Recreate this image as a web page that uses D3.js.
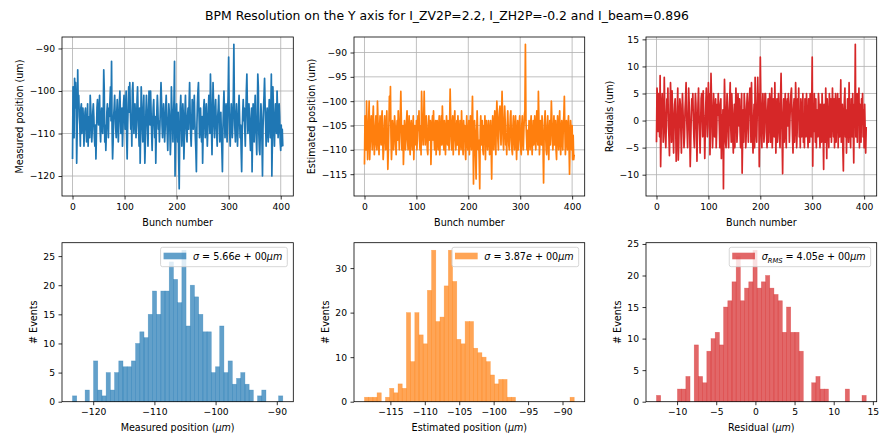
<!DOCTYPE html>
<html><head><meta charset="utf-8">
<script src="https://cdn.jsdelivr.net/npm/d3@7"></script>
<style>body{margin:0;background:#fff}svg{display:block}text{font-family:"DejaVu Sans",sans-serif}</style>
</head><body><svg id="c" width="879" height="433"></svg>
<script>
// ---------- data ----------
const chartTitle = "BPM Resolution on the Y axis for I_ZV2P=2.2, I_ZH2P=-0.2 and I_beam=0.896";
const bunchTicks = [0, 100, 200, 300, 400];
const measuredTicks = [-120, -110, -100, -90];
const estimatedTicks = [-115, -110, -105, -100, -95, -90];
const residualTicks = [-10, -5, 0, 5, 10, 15];
const countTicksA = [0, 5, 10, 15, 20, 25];
const countTicksB = [0, 10, 20, 30];
const countTicksC = [0, 5, 10, 15, 20, 25];

const measured = [
-116,-99,-100,-111,-97,-104,-98,-102,-117,-109,-95,-104,-101,-106,-108,-113,-104,-103,-110,-106,
-104,-107,-113,-109,-105,-104,-108,-112,-110,-103,-113,-108,-106,-111,-101,-104,-107,-112,-109,-105,
-103,-106,-111,-113,-108,-116,-110,-104,-102,-106,-108,-105,-101,-109,-112,-107,-104,-108,-110,-106,
-95,-100,-112,-108,-114,-110,-105,-103,-107,-111,-104,-106,-102,-99,-107,-93,-109,-116,-112,-106,
-104,-101,-106,-109,-111,-105,-102,-107,-112,-108,-103,-100,-105,-110,-107,-104,-113,-109,-103,-101,
-106,-109,-104,-100,-111,-116,-108,-103,-99,-105,-98,-104,-109,-106,-113,-100,-98,-104,-110,-107,
-103,-106,-111,-108,-102,-99,-105,-109,-113,-104,-117,-109,-99,-103,-108,-112,-106,-101,-110,-117,
-112,-105,-101,-104,-109,-113,-107,-100,-103,-108,-100,-105,-110,-114,-108,-104,-102,-107,-111,-106,
-117,-110,-105,-101,-104,-109,-107,-112,-108,-103,-98,-102,-108,-111,-106,-103,-107,-112,-109,-104,
-101,-106,-110,-114,-108,-103,-105,-109,-115,-111,-99,-104,-107,-112,-106,-102,-93,-120,-113,-107,
-103,-109,-112,-105,-116,-123,-110,-104,-101,-107,-113,-108,-103,-106,-116,-111,-105,-101,-107,-110,
-112,-106,-104,-109,-103,-98,-105,-110,-113,-108,-102,-106,-109,-104,-101,-107,-111,-114,-119,-108,
-103,-100,-98,-105,-111,-107,-104,-109,-112,-106,-117,-110,-104,-102,-107,-111,-106,-103,-108,-113,
-109,-104,-101,-106,-110,-96,-102,-109,-115,-107,-98,-103,-108,-111,-105,-102,-107,-110,-113,-106,
-104,-101,-107,-112,-108,-105,-110,-114,-119,-109,-104,-100,-106,-111,-107,-103,-108,-112,-105,-101,
-92,-105,-110,-113,-107,-103,-106,-111,-108,-101,-89,-104,-109,-112,-106,-103,-108,-113,-109,-104,
-101,-106,-111,-108,-114,-119,-110,-105,-102,-107,-104,-109,-113,-106,-100,-96,-104,-110,-108,-103,
-106,-111,-114,-108,-104,-119,-110,-103,-107,-112,-105,-101,-108,-111,-115,-106,-96,-99,-110,-114,
-115,-108,-103,-106,-112,-120,-109,-104,-101,-97,-103,-108,-113,-107,-104,-109,-112,-106,-102,-107,
-111,-105,-96,-120,-112,-99,-104,-109,-113,-107,-103,-106,-110,-100,-105,-111,-108,-103,-106,-112,
-114,-108,-113,-109,-113];

const estimated = [
-113,-103,-104,-110,-100,-106,-112,-108,-104,-100,-112,-109,-105,-103,-107,-110,-104,-101,-107,-111,
-108,-105,-103,-109,-110,-100,-104,-108,-111,-106,-103,-107,-109,-104,-102,-108,-112,-110,-105,-103,
-107,-110,-106,-102,-108,-114,-110,-105,-99,-104,-97,-107,-112,-109,-104,-106,-110,-107,-103,-105,
-109,-111,-106,-104,-108,-102,-105,-110,-107,-103,-98,-104,-110,-108,-105,-113,-109,-104,-106,-110,
-107,-104,-102,-108,-110,-106,-103,-109,-111,-105,-104,-108,-110,-106,-103,-112,-108,-105,-107,-109,
-104,-110,-107,-103,-106,-102,-108,-110,-105,-111,-98,-103,-107,-109,-104,-98,-105,-109,-106,-103,
-107,-110,-111,-105,-103,-108,-106,-104,-113,-109,-105,-103,-108,-102,-107,-110,-106,-104,-111,-108,
-104,-107,-110,-105,-103,-111,-108,-105,-103,-109,-101,-105,-108,-110,-104,-106,-111,-107,-103,-106,
-109,-104,-108,-110,-105,-97.5,-103,-108,-110,-105,-103,-111,-107,-104,-102,-108,-110,-106,-104,-109,
-103,-106,-111,-108,-104,-107,-110,-102,-106,-109,-111,-104,-108,-105,-110,-112,-106,-103,-108,-110,
-107,-104,-111,-108,-103,-106,-110,-104,-99,-107,-117,-109,-104,-106,-111,-116,-108,-102,-106,-110,
-108,-112,-118,-106,-103,-109,-107,-104,-110,-111,-105,-108,-103,-112,-107,-104,-106,-110,-108,-104,
-106,-111,-108,-104,-109,-116,-107,-103,-106,-110,-105,-102,-107,-111,-104,-100,-103,-108,-110,-104,
-102,-101,-106,-109,-104,-98,-103,-108,-110,-105,-101,-104,-109,-107,-111,-105,-102,-106,-109,-110,
-106,-103,-102,-108,-110,-111,-105,-103,-107,-110,-106,-103,-108,-112,-107,-104,-110,-108,-105,-103,
-107,-110,-111,-105,-103,-108,-110,-106,-103,-102,-88.3,-104,-107,-110,-106,-111,-108,-104,-106,-110,
-105,-103,-108,-111,-107,-104,-109,-106,-103,-108,-110,-105,-102,-107,-109,-98,-104,-111,-108,-104,
-106,-109,-103,-105,-110,-116.8,-108,-104,-102,-107,-110,-111,-105,-103,-108,-112,-107,-104,-109,-105,
-100,-104,-108,-110,-106,-103,-109,-107,-104,-110,-112,-106,-103,-107,-110,-105,-102,-108,-111,-106,
-104,-108,-110,-105,-103,-99,-106,-111,-108,-104,-107,-110,-105,-103,-109,-115,-108,-104,-106,-110,
-105,-112,-107,-112,-111];

const residuals = [
-4,6,4,-2,5,1,-3,8.3,-8.5,-2,3,5,1,-4,-1,8,2,-3,-5,0,
4,2,6,-1,-3,-6.5,1,7,3,-4,5.5,2,-2,-6,0,3,4,-1,-7.5,-3,
2,6,-7.3,-4,1,4,3,-2,-6,0,5,2,-1,-5,-3,2,4,7,1,-2,
-5,0,6,3,-2,-8.5,-4,1,4,2,5,0,-3,-5,1,5,3,-2,-7.5,-1,
3,6,1,-2,-6,-1,4,5,2,-3,5.5,1,-1,-7,-2,3,6,2,-3,-1,
7,3,5,-6.3,-2,8.7,4,1,-5,-2,5,2,-3,-1,4,-5,-2,3,1,5,
2,-1,-5,3,4,-7,1,-3,2,-12.6,0,7.6,3,-4,-5,1,5,2,-3,-5,
1,4,7,-1,-4,5,2,-3,-6,0,3,-5,1,6,3,-4,-2,5,2,-1,
4,-2,-5,0,5,-9.7,-3,2,-4,5,3,1,-5,-2,3,5,0,-4,2,4,
6,2,-4,7,1,-3,-6,0,3,-5,8,3,-2,-4,1,8,3,5,-8.5,0,
11.7,4,-3,-5,2,5,1,-4,-2,5,5,2,-3,-5,1,4,-4,0,5,3,
-4,1,6,-5,-2,4,3,-3,7,1,-6,0,4,-4,-1,5,2,-3,-5,4,
8.7,2,-3,-9.8,0,4,-4,1,5,-2,-5,3,4,-1,5,2,-4,0,3,5,
6,1,-3,-6,2,4,-4,-1,7,3,-5,-2,4,1,6,-3,0,-5,4,2,
-3,1,5,-4,-1,-5,4,2,-3,5,1,-2,-5,4,3,-4,5,0,-3,2,
11.7,-8.4,3,-2,5,1,-4,4,-5,2,-1,-3,5,3,-2,-5,3,0,-4,5,
2,-2,-9,3,0,-4,6,2,-7,4,1,-2,-5,5,3,-3,4,-4,0,6,
2,-3,4,-5,1,5,-4,0,3,5,-5,2,4,-3,1,7.5,-4,-1,3,-5,
-9.3,1,4,6,-3,2,-6,-1,4,3,-4,7,0,-2,-5,4,2,-3,5,-1,
-7.8,3,0,14.1,-3,5,2,-4,5,1,6,-5,3,-1,-4,4,0,5,-3,2,
-5,3,-2,-6,-1.2];

// histogram bin counts (50 bins each) and bin range
const measuredHistRange = [-123.38, -89.02];
const measuredHistCounts = [1,0,0,2,0,7,2,1,5,2, 5,7,6,6,7,10,12,11,15,19, 15,19,19,24,21,17,26,13,20,18, 15,12,12,5,6,13,5,7,3,4, 5,3,2,0,1,2,0,0,0,1];
const estimatedHistRange = [-118.76, -88.3];
const estimatedHistCounts = [1,1,1,2,0,1,3,2,4,3, 20,9,20,15,13,25,34,18,19,26, 34,27,14,13,18,18,12,11,10,9, 6,4,5,5,1,1,0,0,0,0, 0,0,0,0,0,0,0,0,0,1];
const residualHistRange = [-12.63, 14.15];
const residualHistCounts = [1,0,0,0,0,2,2,4,0,9, 4,3,8,10,11,9,15,16,19,23, 16,18,19,24,18,19,20,18,17,16, 11,15,11,11,8,0,0,3,4,2, 2,0,0,0,0,2,0,0,0,1];

const legendMeasured = [["σ","i"],[" = ","r"],["5.66","r"],["e","i"],[" + ","r"],["00","r"],["μm","i"]];
const legendEstimated = [["σ","i"],[" = ","r"],["3.87","r"],["e","i"],[" + ","r"],["00","r"],["μm","i"]];
const legendResidual = [["σ","i"],["RMS","sub"],[" = ","r"],["4.05","r"],["e","i"],[" + ","r"],["00","r"],["μm","i"]];

// ---------- drawing ----------
const svg = d3.select("#c");
const FONT = "DejaVu Sans";
const TFS = 9.2, LFS = 9.6;
const fmt = d => (d < 0 ? "\u2212" + Math.abs(d) : String(d));

svg.append("text").attr("x", 447).attr("y", 19.5).attr("text-anchor", "middle")
  .attr("font-size", 12.4).attr("font-family", FONT).text(chartTitle);

function panel(box, xDom, yDom, xt, yt, withGrid, xlabel, ylabel) {
  const [x0, y0, x1, y1] = box;
  const x = d3.scaleLinear().domain(xDom).range([x0, x1]);
  const y = d3.scaleLinear().domain(yDom).range([y1, y0]);
  const g = svg.append("g");
  const gg = g.append("g"), data = g.append("g"), ax = g.append("g");
  if (withGrid) {
    gg.selectAll(".vx").data(xt).join("line").attr("x1", d => x(d)).attr("x2", d => x(d))
      .attr("y1", y0).attr("y2", y1).attr("stroke", "#b0b0b0").attr("stroke-width", 0.8);
    gg.selectAll(".hy").data(yt).join("line").attr("y1", d => y(d)).attr("y2", d => y(d))
      .attr("x1", x0).attr("x2", x1).attr("stroke", "#b0b0b0").attr("stroke-width", 0.8);
  }
  const xa = ax.append("g").attr("transform", `translate(0,${y1})`)
    .call(d3.axisBottom(x).tickValues(xt).tickSize(3.5).tickPadding(3.5).tickFormat(fmt));
  const ya = ax.append("g").attr("transform", `translate(${x0},0)`)
    .call(d3.axisLeft(y).tickValues(yt).tickSize(3.5).tickPadding(3.5).tickFormat(fmt));
  [xa, ya].forEach(a => {
    a.attr("font-size", TFS).attr("font-family", FONT);
    a.select(".domain").remove();
    a.selectAll("line").attr("stroke", "#000").attr("stroke-width", 0.8);
    a.selectAll("text").attr("fill", "#000");
  });
  ax.append("rect").attr("x", x0).attr("y", y0).attr("width", x1 - x0).attr("height", y1 - y0)
    .attr("fill", "none").attr("stroke", "#000").attr("stroke-width", 0.8);
  const xl = ax.append("text").attr("x", (x0 + x1) / 2).attr("y", y1 + 29.5)
    .attr("text-anchor", "middle").attr("font-size", LFS).attr("font-family", FONT);
  xlabel.forEach(([t, s]) => xl.append("tspan").attr("font-style", s === "i" ? "italic" : "normal").text(t));
  const bb = ya.node().getBBox();
  const lx = x0 + bb.x - 6.5;
  ax.append("text").attr("transform", `translate(${lx},${(y0 + y1) / 2}) rotate(-90)`)
    .attr("text-anchor", "middle").attr("font-size", LFS).attr("font-family", FONT).text(ylabel);
  return { x, y, data, ax };
}

function pad(ext) { const r = ext[1] - ext[0]; return [ext[0] - 0.05 * r, ext[1] + 0.05 * r]; }

const colX = [[62, 293.3], [354, 584.7], [646, 876.7]];
const topY = [37, 196], botY = [242.7, 401.7];

const lines = [
  { d: measured, c: "#1f77b4", yt: measuredTicks, yl: "Measured position (um)" },
  { d: estimated, c: "#ff7f0e", yt: estimatedTicks, yl: "Estimated position (um)" },
  { d: residuals, c: "#d62728", yt: residualTicks, yl: "Residuals (um)" }
];
lines.forEach((L, i) => {
  const box = [colX[i][0], topY[0], colX[i][1], topY[1]];
  const p = panel(box, pad([0, L.d.length - 1]), pad(d3.extent(L.d)), bunchTicks, L.yt, true,
    [["Bunch number", "r"]], L.yl);
  p.data.append("path").datum(L.d)
    .attr("d", d3.line().x((v, k) => p.x(k)).y(v => p.y(v)))
    .attr("fill", "none").attr("stroke", L.c).attr("stroke-width", 1.7).attr("stroke-linejoin", "round");
});

const hists = [
  { r: measuredHistRange, n: measuredHistCounts, c: "#1f77b4", xt: measuredTicks, yt: countTicksA,
    xl: [["Measured position (", "r"], ["μm", "i"], [")", "r"]], lg: legendMeasured },
  { r: estimatedHistRange, n: estimatedHistCounts, c: "#ff7f0e", xt: estimatedTicks, yt: countTicksB,
    xl: [["Estimated position (", "r"], ["μm", "i"], [")", "r"]], lg: legendEstimated },
  { r: residualHistRange, n: residualHistCounts, c: "#d62728", xt: residualTicks, yt: countTicksC,
    xl: [["Residual (", "r"], ["μm", "i"], [")", "r"]], lg: legendResidual }
];
hists.forEach((H, i) => {
  const box = [colX[i][0], botY[0], colX[i][1], botY[1]];
  const p = panel(box, pad(H.r), [0, d3.max(H.n) * 1.05], H.xt, H.yt, false, H.xl, "# Events");
  const w = (H.r[1] - H.r[0]) / H.n.length;
  p.data.selectAll("rect").data(H.n).join("rect")
    .attr("x", (v, k) => p.x(H.r[0] + k * w))
    .attr("width", (v, k) => p.x(H.r[0] + (k + 1) * w) - p.x(H.r[0] + k * w))
    .attr("y", v => p.y(v)).attr("height", v => p.y(0) - p.y(v))
    .attr("fill", H.c).attr("fill-opacity", 0.7)
    .attr("stroke", H.c).attr("stroke-opacity", 0.45).attr("stroke-width", 0.6);
  const lg = p.ax.append("g");
  const frame = lg.append("rect");
  const txt = lg.append("text").attr("font-size", LFS).attr("font-family", FONT);
  let prevSub = false;
  H.lg.forEach(([t, s]) => {
    const ts = txt.append("tspan").text(t);
    if (s === "i") ts.attr("font-style", "italic");
    if (s === "sub") { ts.attr("font-style", "italic").attr("font-size", LFS * 0.7).attr("dy", 2.5); prevSub = true; }
    else if (prevSub) { ts.attr("dy", -2.5); prevSub = false; }
  });
  const tw = txt.node().getComputedTextLength();
  const bw = 3 + 22.7 + 6.7 + tw + 5;
  const rx = colX[i][1] - 6, lx0 = rx - bw, ty = botY[0] + 4.6;
  frame.attr("x", lx0).attr("y", ty).attr("width", bw).attr("height", 19.4).attr("rx", 2)
    .attr("fill", "#fff").attr("fill-opacity", 0.8).attr("stroke", "#ccc").attr("stroke-width", 0.8);
  lg.append("rect").attr("x", lx0 + 3).attr("y", ty + 5.4).attr("width", 22.7).attr("height", 6.6)
    .attr("fill", H.c).attr("fill-opacity", 0.7);
  txt.attr("x", lx0 + 3 + 22.7 + 6.7).attr("y", ty + 13);
});
</script></body></html>
